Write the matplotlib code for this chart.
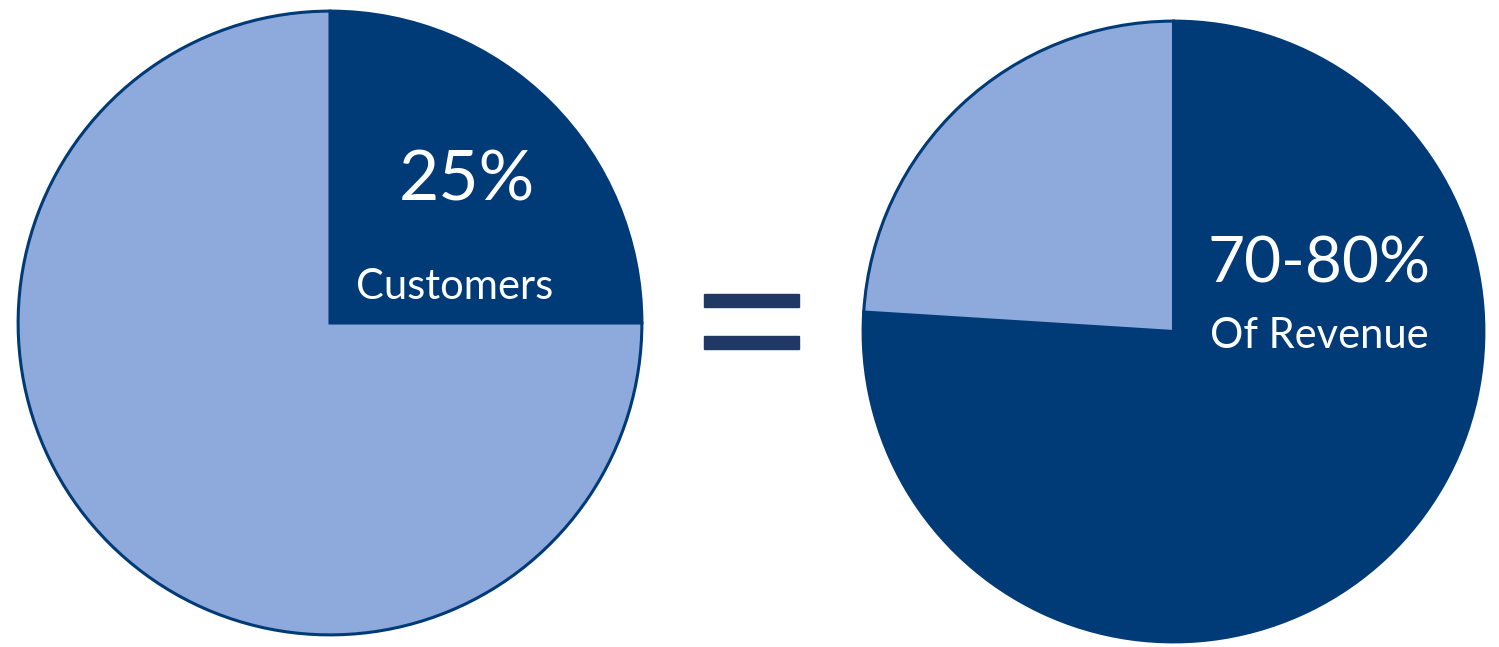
import matplotlib
matplotlib.use("Agg")
import matplotlib.pyplot as plt
from matplotlib.patches import Rectangle

W, H = 1499, 647
DARK = "#003b78"
LIGHT = "#8eaadc"
EQ = "#1f3864"

# data
left_labels = ["Customers (top)", "Other customers"]
left_values = [25, 75]
right_labels = ["Revenue from top customers", "Other revenue"]
right_values = [76, 24]
left_text = ["25%", "Customers"]
right_text = ["70-80%", "Of Revenue"]

plt.rcParams['font.family'] = ['Lato', 'DejaVu Sans']

fig = plt.figure(figsize=(W / 100, H / 100), dpi=100)

def px_axes(x0, y0_top, w, h):
    return fig.add_axes([x0 / W, (H - y0_top - h) / H, w / W, h / H])

# left pie
axL = px_axes(15, 8, 630, 630)
axL.pie(left_values, colors=[DARK, LIGHT], startangle=90, counterclock=False,
        radius=1, wedgeprops=dict(edgecolor=DARK, linewidth=2.2))
axL.set_xlim(-1.01, 1.01); axL.set_ylim(-1.01, 1.01)
axL.set_aspect('equal'); axL.axis('off')
axL.text(0.44, 0.455, left_text[0], color='white', fontsize=50, ha='center',
         va='center', fontweight='normal')
axL.text(0.40, 0.115, left_text[1], color='white', fontsize=30, ha='center',
         va='center', fontweight='normal')

# right pie
axR = px_axes(860, 18, 627, 627)
axR.pie(right_values, colors=[DARK, LIGHT], startangle=90, counterclock=False,
        radius=1, wedgeprops=dict(edgecolor=DARK, linewidth=2.2))
axR.set_xlim(-1.01, 1.01); axR.set_ylim(-1.01, 1.01)
axR.set_aspect('equal'); axR.axis('off')
axR.text(0.47, 0.215, right_text[0], color='white', fontsize=46, ha='center',
         va='center', fontweight='normal')
axR.text(0.47, -0.015, right_text[1], color='white', fontsize=30, ha='center',
         va='center', fontweight='normal')

# equals sign
axE = fig.add_axes([0, 0, 1, 1])
axE.set_xlim(0, W); axE.set_ylim(H, 0); axE.axis('off')
axE.add_patch(Rectangle((704, 294), 95, 13, color=EQ))
axE.add_patch(Rectangle((704, 336), 95, 13, color=EQ))

fig.savefig("out.png", dpi=100, facecolor='white')
